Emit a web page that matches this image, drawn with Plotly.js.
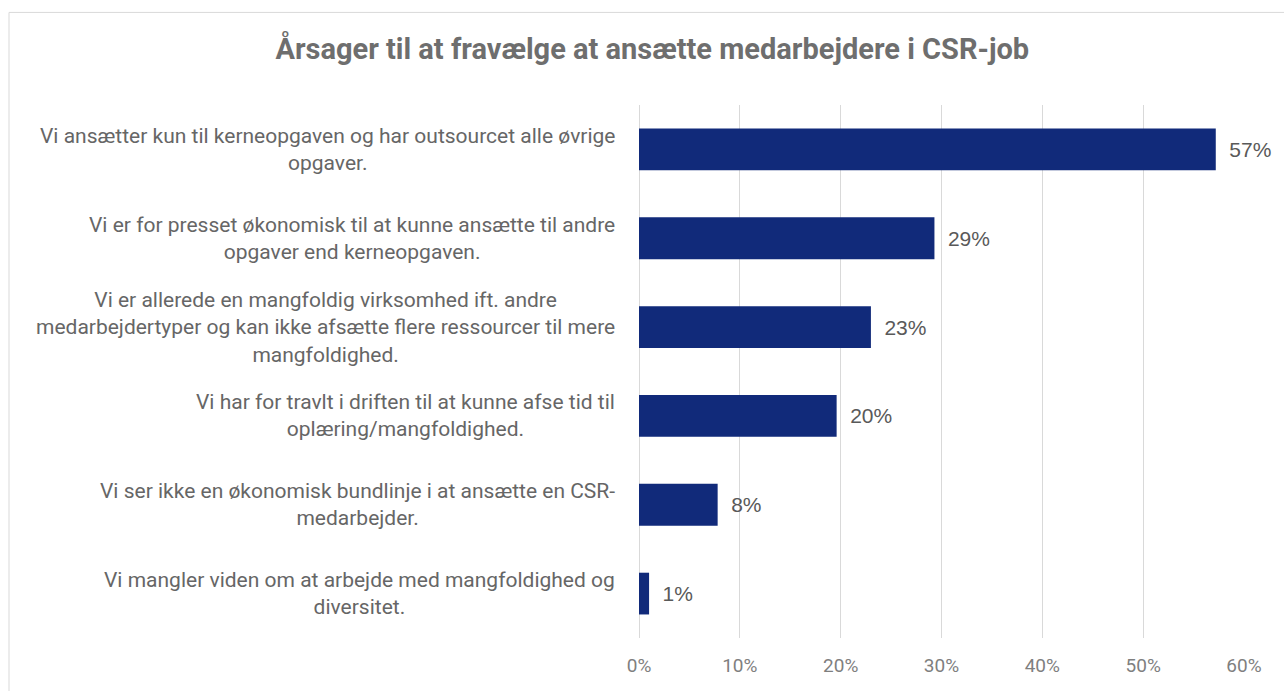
<!DOCTYPE html>
<html>
<head>
<meta charset="utf-8">
<script src="https://cdn.plot.ly/plotly-3.0.1.min.js"></script>
<style>
  html, body { margin: 0; padding: 0; background: #fff; }
  #chart { width: 1284px; height: 691px; }
</style>
</head>
<body>
<div id="chart"></div>
<script>
// svar (andel af virksomheder), læst af figuren
const reasons = [
    'Vi ansætter kun til kerneopgaven og har outsourcet alle øvrige<br>opgaver.',
    'Vi er for presset økonomisk til at kunne ansætte til andre<br>opgaver end kerneopgaven.',
    'Vi er allerede en mangfoldig virksomhed ift. andre<br>medarbejdertyper og kan ikke afsætte flere ressourcer til mere<br>mangfoldighed.',
    'Vi har for travlt i driften til at kunne afse tid til<br>oplæring/mangfoldighed.',
    'Vi ser ikke en økonomisk bundlinje i at ansætte en CSR-<br>medarbejder.',
    'Vi mangler viden om at arbejde med mangfoldighed og<br>diversitet.'
];
const shares = [0.572, 0.293, 0.230, 0.196, 0.078, 0.010];
const xTicks = [0, 0.1, 0.2, 0.3, 0.4, 0.5, 0.6];

const catFont = 'Roboto, Liberation Sans, sans-serif';
const valFont = 'Liberation Sans, Arial, sans-serif';
const grey = '#595959';

const bars = {
    type: 'bar',
    orientation: 'h',
    y: reasons,
    x: shares,
    marker: { color: '#112a7a', line: { width: 0 } },
    text: shares.map(v => '\u2002' + Math.round(v * 100) + '%'),
    textposition: 'outside',
    textfont: { family: valFont, size: 21, color: grey },
    cliponaxis: false,
    hoverinfo: 'skip'
};

// kategoritekster som centrerede annotationer (som i Excel)
const catLabels = reasons.map(r => ({
    xref: 'paper', yref: 'y',
    x: -0.036, y: r,
    xanchor: 'right', yanchor: 'middle',
    align: 'center',
    text: r,
    showarrow: false,
    font: { family: catFont, size: 21, color: '#666666' }
}));

const layout = {
    width: 1284,
    height: 691,
    margin: { l: 639, r: 40, t: 105, b: 53 },
    paper_bgcolor: '#fff',
    plot_bgcolor: '#fff',
    showlegend: false,
    bargap: 0.53,
    title: {
        text: '<b>Årsager til at fravælge at ansætte medarbejdere i CSR-job</b>',
        font: { family: catFont, size: 29, color: '#6e6e6e' },
        x: 0.508, xref: 'container', xanchor: 'center',
        y: 0.93, yref: 'container', yanchor: 'middle'
    },
    xaxis: {
        range: [0, 0.6],
        tickvals: xTicks,
        tickformat: '.0%',
        showgrid: true,
        gridcolor: '#d9d9d9',
        gridwidth: 1,
        zeroline: true,
        zerolinecolor: '#d9d9d9',
        showline: false,
        ticks: '',
        ticklabelstandoff: 14,
        tickfont: { family: catFont, size: 19, color: '#7f7f7f' },
        fixedrange: true
    },
    yaxis: {
        autorange: 'reversed',
        showgrid: false,
        zeroline: false,
        showline: false,
        ticks: '',
        showticklabels: false,
        fixedrange: true
    },
    annotations: catLabels,
    shapes: [{
        type: 'rect', xref: 'paper', yref: 'paper',
        x0: -1.0413, x1: 1.2, y0: -0.3, y1: 1.1737,
        line: { color: '#d9d9d9', width: 1 },
        fillcolor: 'rgba(0,0,0,0)',
        layer: 'below'
    }]
};

Plotly.newPlot('chart', [bars], layout, { displayModeBar: false, staticPlot: true });
</script>
</body>
</html>
